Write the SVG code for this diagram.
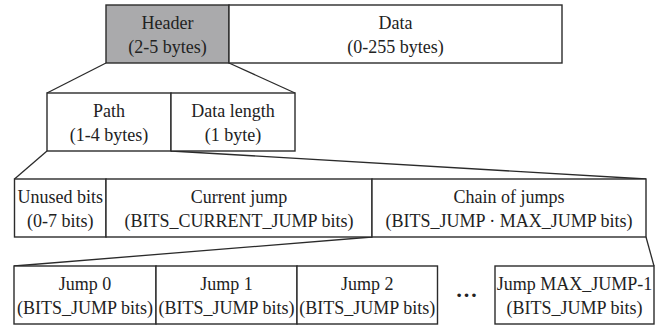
<svg xmlns="http://www.w3.org/2000/svg" width="658" height="326" viewBox="0 0 658 326">
  <style>
    .box { fill: #ffffff; stroke: #2b2b2b; stroke-width: 1.4; }
    .hdr { fill: #aaaaac; }
    .lbl { font-size: 18px; fill: #222222; text-anchor: middle; }
    .link { stroke: #2b2b2b; stroke-width: 1.3; fill: none; }
  </style>
  <rect width="658" height="326" fill="#ffffff"/>

  <!-- zoom-out connectors between layers -->
  <g id="connectors">
    <line class="link" x1="106" y1="63" x2="47" y2="93"/>
    <line class="link" x1="229" y1="63" x2="295" y2="93"/>
    <line class="link" x1="47" y1="151" x2="14.5" y2="179"/>
    <line class="link" x1="171" y1="151" x2="646" y2="179"/>
    <line class="link" x1="372" y1="237" x2="14" y2="266"/>
    <line class="link" x1="646" y1="237" x2="654" y2="266"/>
  </g>

  <g font-family="'Liberation Serif', 'Times New Roman', serif">
    <!-- layer 1: packet -->
    <g id="header">
      <rect class="box hdr" x="106" y="5" width="123" height="58"/>
      <text class="lbl" x="167.5" y="29">Header</text>
      <text class="lbl" x="167.5" y="53">(2-5 bytes)</text>
    </g>
    <g id="data">
      <rect class="box" x="229" y="5" width="333" height="58"/>
      <text class="lbl" x="395.5" y="29">Data</text>
      <text class="lbl" x="395.5" y="53">(0-255 bytes)</text>
    </g>

    <!-- layer 2: header fields -->
    <g id="path">
      <rect class="box" x="47" y="93" width="124" height="58"/>
      <text class="lbl" x="109" y="117">Path</text>
      <text class="lbl" x="109" y="141">(1-4 bytes)</text>
    </g>
    <g id="data-length">
      <rect class="box" x="171" y="93" width="124" height="58"/>
      <text class="lbl" x="233" y="117">Data length</text>
      <text class="lbl" x="233" y="141">(1 byte)</text>
    </g>

    <!-- layer 3: path fields -->
    <g id="unused-bits">
      <rect class="box" x="14.5" y="179" width="91.5" height="58"/>
      <text class="lbl" x="60.25" y="203">Unused bits</text>
      <text class="lbl" x="60.25" y="227">(0-7 bits)</text>
    </g>
    <g id="current-jump">
      <rect class="box" x="106" y="179" width="266" height="58"/>
      <text class="lbl" x="239" y="203">Current jump</text>
      <text class="lbl" x="239" y="227">(BITS_CURRENT_JUMP bits)</text>
    </g>
    <g id="chain-of-jumps">
      <rect class="box" x="372" y="179" width="274" height="58"/>
      <text class="lbl" x="509" y="203">Chain of jumps</text>
      <text class="lbl" x="509" y="227">(BITS_JUMP · MAX_JUMP bits)</text>
    </g>

    <!-- layer 4: individual jumps -->
    <g id="jump-0">
      <rect class="box" x="14" y="266" width="142" height="58"/>
      <text class="lbl" x="85" y="290">Jump 0</text>
      <text class="lbl" x="85" y="314">(BITS_JUMP bits)</text>
    </g>
    <g id="jump-1">
      <rect class="box" x="156" y="266" width="141" height="58"/>
      <text class="lbl" x="226.5" y="290">Jump 1</text>
      <text class="lbl" x="226.5" y="314">(BITS_JUMP bits)</text>
    </g>
    <g id="jump-2">
      <rect class="box" x="297" y="266" width="140.5" height="58"/>
      <text class="lbl" x="367.25" y="290">Jump 2</text>
      <text class="lbl" x="367.25" y="314">(BITS_JUMP bits)</text>
    </g>
    <g id="ellipsis">
      <text class="lbl" x="466.5" y="297" font-size="22" font-weight="bold" style="font-size:22px">…</text>
    </g>
    <g id="jump-last">
      <rect class="box" x="495" y="266" width="159" height="58"/>
      <text class="lbl" x="574.5" y="290">Jump MAX_JUMP-1</text>
      <text class="lbl" x="574.5" y="314">(BITS_JUMP bits)</text>
    </g>
  </g>
</svg>
